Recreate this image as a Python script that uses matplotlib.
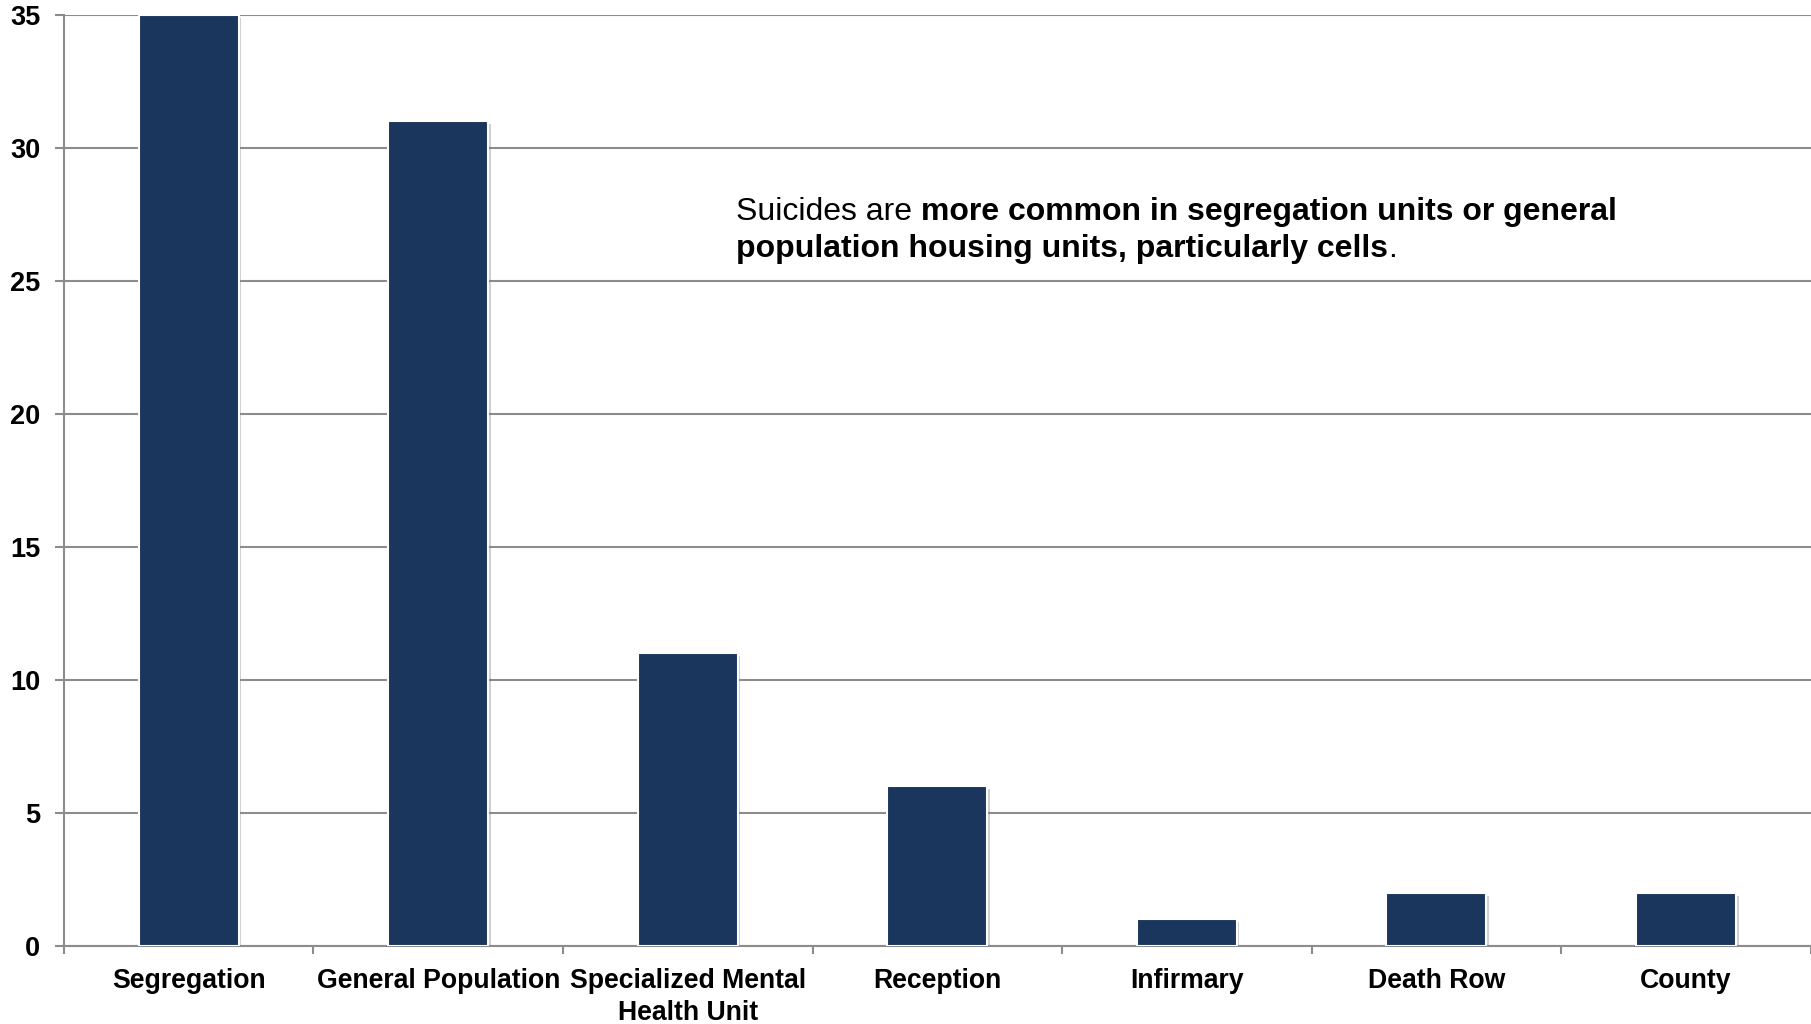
import numpy as np
from matplotlib import pyplot as plt
from matplotlib import patheffects as pe

categories = ["Segregation", "General Population", "Specialized Mental\nHealth Unit",
              "Reception", "Infirmary", "Death Row", "County"]
suicides = [35, 31, 11, 6, 1, 2, 2]
y_ticks = [0, 5, 10, 15, 20, 25, 30, 35]

bar_color = "#1B365D"
grid_color = "#8C8C8C"

plt.rcParams["font.family"] = ["Liberation Sans", "DejaVu Sans"]

fig = plt.figure(figsize=(18.11, 10.24), dpi=100)
ax = fig.add_axes([0.0353, 0.0762, 0.9645, 0.9092])

x = np.arange(len(categories))
bars = ax.bar(x, suicides, width=0.4, color=bar_color, edgecolor="white",
              linewidth=1.5, zorder=3)
for b in bars:
    b.set_path_effects([pe.SimplePatchShadow(offset=(2, -2), shadow_rgbFace="#777777", alpha=0.35),
                        pe.Normal()])

ax.set_xlim(-0.5, len(categories) - 0.5)
ax.set_ylim(0, 35)
ax.set_yticks(y_ticks)
ax.set_yticklabels([str(v) for v in y_ticks], fontsize=19.5, fontweight="bold")
ax.yaxis.grid(True, color=grid_color, linewidth=1.5, zorder=0)
ax.set_axisbelow(True)

# category labels centred, ticks on the boundaries
ax.set_xticks(x)
ax.set_xticklabels(categories, fontsize=19.2, fontweight="bold", linespacing=1.3)
ax.tick_params(axis="x", length=0, pad=16)
ax.set_xticks(np.arange(len(categories) + 1) - 0.5, minor=True)
ax.tick_params(axis="x", which="minor", length=5.5, width=1.5, color=grid_color)
ax.tick_params(axis="y", length=6.5, width=1.5, color=grid_color, pad=10.5)

for side in ["top", "right"]:
    ax.spines[side].set_visible(False)
for side in ["left", "bottom"]:
    ax.spines[side].set_color(grid_color)
    ax.spines[side].set_linewidth(1.5)

# note with mixed weights
fs = 23
t1 = ax.text(0.385, 0.772, "Suicides are ", transform=ax.transAxes, fontsize=fs,
             va="bottom", ha="left")
t2 = ax.annotate("more common in segregation units or general", xy=(1, 0), xycoords=t1,
                 fontsize=fs, fontweight="bold", va="bottom", ha="left")
t3 = ax.text(0.385, 0.733, "population housing units, particularly cells", transform=ax.transAxes,
             fontsize=fs, fontweight="bold", va="bottom", ha="left")
ax.annotate(".", xy=(1, 0), xycoords=t3, fontsize=fs, va="bottom", ha="left")

fig.savefig("out.png", dpi=100)
